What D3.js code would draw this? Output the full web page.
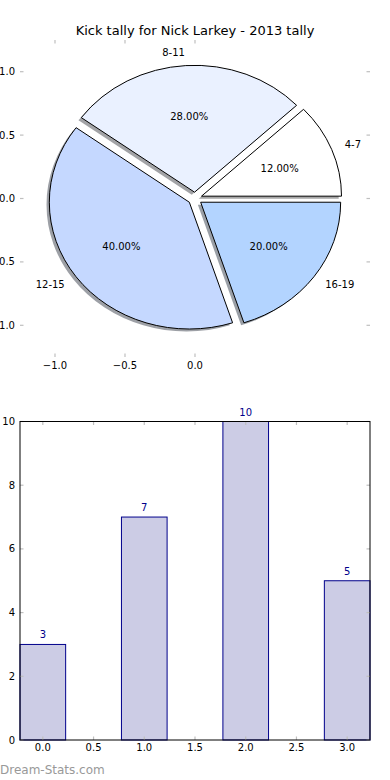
<!DOCTYPE html>
<html><head><meta charset="utf-8">
<script src="https://cdn.jsdelivr.net/npm/d3@7"></script>
<style>body{margin:0;background:#fff}svg{display:block}text{font-family:"DejaVu Sans",sans-serif}</style>
</head><body>
<svg id="c" width="390" height="780"></svg>
<script>
const title = "Kick tally for Nick Larkey - 2013 tally";
const categories = ["4-7","8-11","12-15","16-19"];
const values = [3,7,10,5];
const sliceColors = ["#ffffff","#eaf1ff","#c5d8ff","#b3d4ff"];
const explode = [0.05,0.05,0.05,0.05];
const pieXTicks = [-1.0,-0.5,0.0];
const pieYTicks = [1.0,0.5,0.0,-0.5,-1.0];
const barX = [0,1,2,3];
const barXTicks = [0.0,0.5,1.0,1.5,2.0,2.5,3.0];
const barYTicks = [0,2,4,6,8,10];
const watermark = "Dream-Stats.com";

const svg = d3.select("#c");
const tickCol = "#bfbfbf";

// ---------- PIE ----------
const px = d3.scaleLinear().domain([-1.25,1.25]).range([20,370]);
const py = d3.scaleLinear().domain([-1.25,1.25]).range([357,40]);
const cx = px(0), cy = py(0);
const rx = px(1)-px(0), ry = py(0)-py(1);

svg.append("text").attr("x",195).attr("y",35).attr("text-anchor","middle")
  .attr("font-size",13).attr("fill","#000").text(title);

const total = d3.sum(values);
const pie = d3.pie().sort(null).startAngle(Math.PI/2).endAngle(Math.PI/2-2*Math.PI);
const arcs = pie(values);
const arc = d3.arc().innerRadius(0).outerRadius(1);

const pg = svg.append("g");
function offs(d,i){
  const m=(d.startAngle+d.endAngle)/2;
  return [explode[i]*Math.sin(m), -explode[i]*Math.cos(m), m];
}
// shadows
arcs.forEach((d,i)=>{
  const [ox,oy]=offs(d,i);
  const sx = cx + (ox-0.02)*rx, sy = cy + (oy+0.02)*ry;
  const c = d3.rgb(sliceColors[i]);
  pg.append("path").attr("d",arc(d))
    .attr("transform",`translate(${sx},${sy}) scale(${rx},${ry})`)
    .attr("fill",d3.rgb(c.r*0.3,c.g*0.3,c.b*0.3)).attr("fill-opacity",0.5);
});
arcs.forEach((d,i)=>{
  const [ox,oy]=offs(d,i);
  pg.append("path").attr("d",arc(d))
    .attr("transform",`translate(${cx+ox*rx},${cy+oy*ry}) scale(${rx},${ry})`)
    .attr("fill",sliceColors[i]).attr("stroke","#000").attr("stroke-width",1)
    .attr("vector-effect","non-scaling-stroke").attr("stroke-linejoin","round");
});
arcs.forEach((d,i)=>{
  const [ox,oy,m]=offs(d,i);
  const ux = Math.sin(m), uy = -Math.cos(m);
  const lx = cx+(ox+1.1*ux)*rx, ly = cy+(oy+1.1*uy)*ry;
  pg.append("text").attr("x",lx).attr("y",ly).attr("dy","0.35em")
    .attr("text-anchor", ux>0?"start":"end").attr("font-size",10).text(categories[i]);
  const tx = cx+(ox+0.6*ux)*rx, ty = cy+(oy+0.6*uy)*ry;
  pg.append("text").attr("x",tx).attr("y",ty).attr("dy","0.35em")
    .attr("text-anchor","middle").attr("font-size",10)
    .text((values[i]/total*100).toFixed(2)+"%");
});
// pie ticks
const tg = svg.append("g");
pieXTicks.forEach(t=>{
  tg.append("line").attr("x1",px(t)).attr("x2",px(t)).attr("y1",40).attr("y2",43.5).attr("stroke",tickCol).attr("stroke-width",1.2);
  tg.append("line").attr("x1",px(t)).attr("x2",px(t)).attr("y1",357).attr("y2",353.5).attr("stroke",tickCol).attr("stroke-width",1.2);
  tg.append("text").attr("x",px(t)).attr("y",369).attr("text-anchor","middle").attr("font-size",10)
    .text(d3.format(".1f")(t).replace("-","\u2212"));
});
pieYTicks.forEach(t=>{
  tg.append("line").attr("x1",20).attr("x2",23.5).attr("y1",py(t)).attr("y2",py(t)).attr("stroke",tickCol).attr("stroke-width",1.2);
  tg.append("line").attr("x1",370).attr("x2",366.5).attr("y1",py(t)).attr("y2",py(t)).attr("stroke",tickCol).attr("stroke-width",1.2);
  tg.append("text").attr("x",15).attr("y",py(t)).attr("dy","0.35em").attr("text-anchor","end").attr("font-size",10)
    .text(d3.format(".1f")(t).replace("-","\u2212"));
});

// ---------- BAR ----------
const bx = d3.scaleLinear().domain([-0.225,3.225]).range([20,370]);
const by = d3.scaleLinear().domain([0,10]).range([740,421.5]);
const bw = 0.45;
const bg = svg.append("g");
bg.selectAll("rect.bar").data(values).join("rect").attr("class","bar")
  .attr("x",(d,i)=>bx(barX[i]-bw/2)).attr("width",bx(bw)-bx(0))
  .attr("y",d=>by(d)).attr("height",d=>by(0)-by(d))
  .attr("fill","#ccccE5").attr("stroke","#00008b").attr("stroke-width",1);
bg.selectAll("text.val").data(values).join("text").attr("class","val")
  .attr("x",(d,i)=>bx(barX[i])).attr("y",d=>by(d)-6).attr("text-anchor","middle")
  .attr("font-size",10).attr("fill","#00008b").text(d=>d);
barXTicks.forEach(t=>{
  bg.append("line").attr("x1",bx(t)).attr("x2",bx(t)).attr("y1",740).attr("y2",736.5).attr("stroke",tickCol).attr("stroke-width",1.2);
  bg.append("line").attr("x1",bx(t)).attr("x2",bx(t)).attr("y1",421.5).attr("y2",425).attr("stroke",tickCol).attr("stroke-width",1.2);
  bg.append("text").attr("x",bx(t)).attr("y",751).attr("text-anchor","middle").attr("font-size",10).text(d3.format(".1f")(t));
});
barYTicks.forEach(t=>{
  bg.append("line").attr("x1",20).attr("x2",23.5).attr("y1",by(t)).attr("y2",by(t)).attr("stroke",tickCol).attr("stroke-width",1.2);
  bg.append("line").attr("x1",370).attr("x2",366.5).attr("y1",by(t)).attr("y2",by(t)).attr("stroke",tickCol).attr("stroke-width",1.2);
  bg.append("text").attr("x",15).attr("y",by(t)).attr("dy","0.35em").attr("text-anchor","end").attr("font-size",10).text(t);
});
bg.append("rect").attr("x",20).attr("y",421.5).attr("width",350).attr("height",318.5)
  .attr("fill","none").attr("stroke","#000").attr("stroke-width",1);

svg.append("text").attr("x",0).attr("y",774).attr("font-size",12).attr("fill","#999").text(watermark);
</script>
</body></html>
